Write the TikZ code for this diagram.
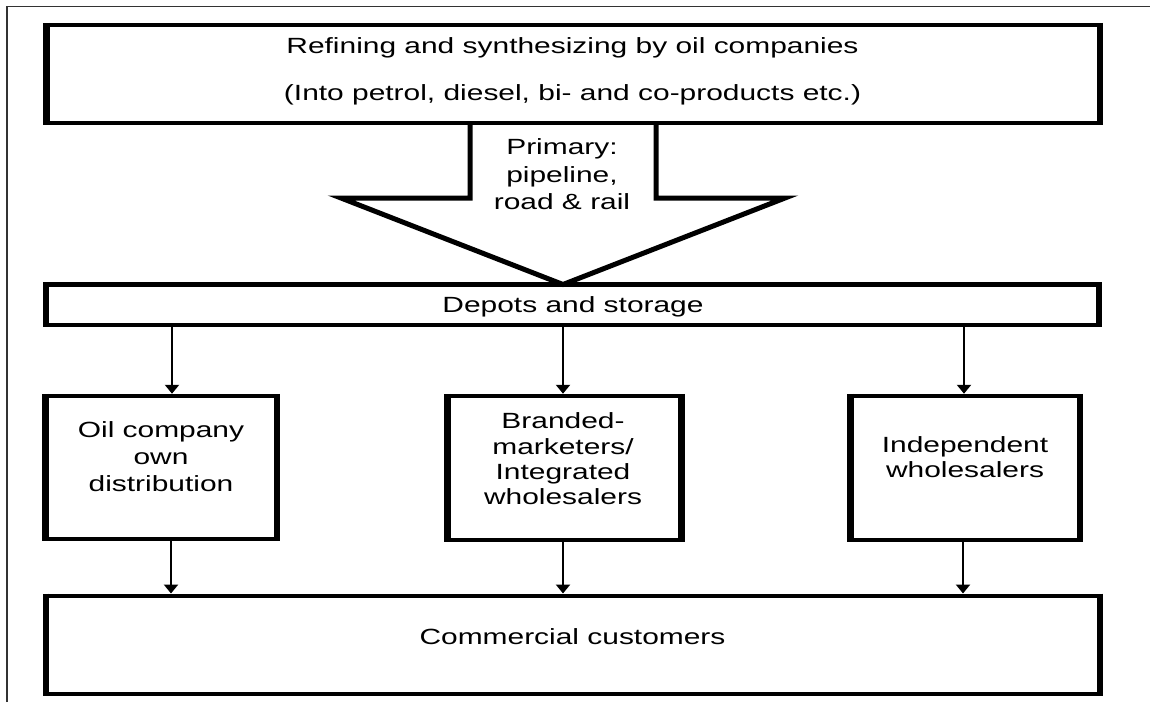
\documentclass[tikz,border=0pt]{standalone}
\usepackage{fontspec}
\setmainfont{Liberation Sans}[FakeStretch=1.36]
\usetikzlibrary{arrows.meta}
\begin{document}
\begin{tikzpicture}[x=1pt,y=-1pt,
  box/.style={draw=black, line width=4.5pt, outer sep=0pt, inner sep=0pt, line join=miter,
    append after command={
      (\tikzlastnode.north west) edge[draw=black, line width=6.5pt, -, shorten <=-2.25pt, shorten >=-2.25pt] (\tikzlastnode.south west)
      (\tikzlastnode.north east) edge[draw=black, line width=6.5pt, -, shorten <=-2.25pt, shorten >=-2.25pt] (\tikzlastnode.south east)}},
  lbl/.style={align=center, inner sep=0pt, text=black, font=\fontsize{22}{26}\selectfont},
  arr/.style={draw=black, line width=2.6pt, -{Triangle[width=14pt,length=9pt]}, shorten <=2.25pt, shorten >=2.25pt},
  bigarrow/.style={draw=black, line width=5pt, line join=miter}]
\useasboundingbox (0,0) rectangle (1150,702);
% frame
\draw[line width=1.6pt, black!80] (7,702) -- (7,6.5) -- (1150,6.5);
% boxes
\node[box, minimum width=1053.5pt, minimum height=98pt] (top) at (573.25,74) {};
\node[box, minimum width=1053pt, minimum height=40.5pt] (depots) at (572.5,304.75) {};
\node[box, minimum width=231.5pt, minimum height=143pt] (b1) at (161.25,467.5) {};
\node[box, minimum width=234pt, minimum height=144pt] (b2) at (564.5,468) {};
\node[box, minimum width=229.5pt, minimum height=144pt] (b3) at (965.25,468) {};
\node[box, minimum width=1054pt, minimum height=98pt] (bottom) at (573,644.75) {};
% big arrow
\draw[bigarrow] (top.south -| 470,0) -- (470,198) -- (341,198) -- (depots.north -| 563,0)
  -- (785,198) -- (656,198) -- (top.south -| 656,0);
% texts
\node[lbl, font=\fontsize{22}{47}\selectfont] (ttop) at (572.5,71.8)
  {Refining and synthesizing by oil companies\\(Into petrol, diesel, bi- and co-products etc.)};
\node[lbl, font=\fontsize{22}{27.5}\selectfont] (tprim) at (562,174.5) {Primary:\\pipeline,\\road \& rail};
\node[lbl] (tdep) at (573,307.3) {Depots and storage};
\node[lbl, font=\fontsize{22}{27}\selectfont] (t1) at (161,457) {Oil company\\own\\distribution};
\node[lbl, font=\fontsize{22}{25.3}\selectfont] (t2) at (563,459) {Branded-\\marketers/\\Integrated\\wholesalers};
\node[lbl, font=\fontsize{22}{25}\selectfont] (t3) at (965,457.5) {Independent\\wholesalers};
\node[lbl] (tbot) at (572.5,637) {Commercial customers};
% connectors
\draw[arr] (depots.south -| 172,0) -- (b1.north -| 172,0);
\draw[arr] (depots.south -| 563,0) -- (b2.north -| 563,0);
\draw[arr] (depots.south -| 964,0) -- (b3.north -| 964,0);
\draw[arr] (b1.south -| 171,0) -- (bottom.north -| 171,0);
\draw[arr] (b2.south -| 563,0) -- (bottom.north -| 563,0);
\draw[arr] (b3.south -| 963,0) -- (bottom.north -| 963,0);
\end{tikzpicture}
\end{document}
